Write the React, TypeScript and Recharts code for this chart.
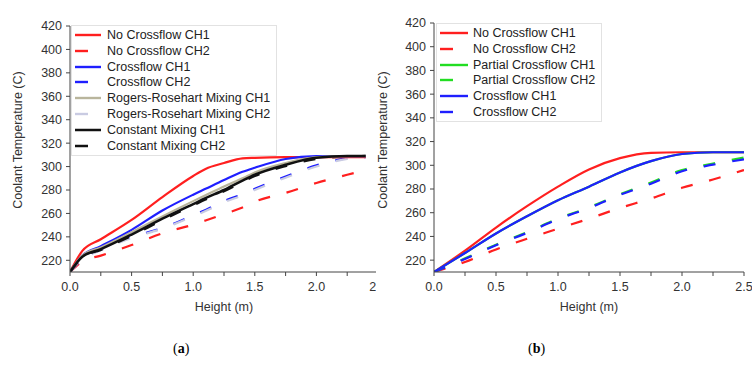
import React from 'react';
import { LineChart, Line, XAxis, YAxis } from 'recharts';

// (a) coolant temperature vs height, mixing models
const heightA = [0, 0.1, 0.25, 0.5, 0.75, 1.0, 1.1, 1.25, 1.4, 1.5, 1.75, 2.0, 2.25, 2.4];
const noCrossCh1A = [210, 228, 238, 254.5, 274, 292, 298, 303, 307, 307.5, 308, 308, 308, 308];
const noCrossCh2A = [210, 219, 224, 233, 243, 250.5, 254, 259.5, 265, 270, 277.5, 286, 293, 297];
const crossCh1A = [210, 224, 232, 246, 262.5, 276, 281, 288.5, 295.5, 299, 306.5, 309, 309, 309];
const crossCh2A = [210, 221, 229, 240, 247.5, 258.5, 263, 270.5, 276.5, 281, 291.5, 301, 307, 308];
const rogersCh1A = [210, 224, 231, 244, 257.5, 270.5, 275.5, 283, 290, 295, 303, 308, 309, 309];
const rogersCh2A = [210, 221, 228.5, 239, 247, 257.5, 262, 269.5, 275.5, 280, 290.5, 300, 306.5, 308];
const constCh1A = [210, 223, 229.5, 242, 255.5, 268, 273, 280, 288, 293, 301.5, 307.5, 309, 309];
const constCh2A = [210, 222.5, 229, 241, 254.5, 267, 272, 279, 287, 292, 300.5, 306.5, 308.5, 309];

// (b) crossflow variants
const heightB = [0, 0.25, 0.5, 0.75, 1.0, 1.25, 1.5, 1.75, 2.0, 2.25, 2.5];
const noCrossCh1B = [210, 228, 247.5, 265.5, 282, 296.5, 306, 310.5, 311, 311, 311];
const noCrossCh2B = [210, 218.5, 229, 238, 246.5, 255, 264, 272, 281, 288, 296];
const partialCh1B = [210, 226, 242.5, 257, 270.5, 282, 294, 303.5, 309.5, 311, 311];
const partialCh2B = [210, 221.5, 233, 243.5, 255, 264.5, 275.5, 285.5, 296, 301.5, 306.5];
const crossCh1B = [210, 226, 242.5, 257, 270.5, 282, 294, 303.5, 309.5, 311, 311];
const crossCh2B = [210, 221, 232.5, 243, 254.5, 264, 275, 284.5, 295, 300.5, 305];

const xTicks = [0, 0.25, 0.5, 0.75, 1, 1.25, 1.5, 1.75, 2, 2.25, 2.5];
const yTicks = [220, 240, 260, 280, 300, 320, 340, 360, 380, 400, 420];

const FONT = '"Liberation Sans", Arial, sans-serif';
const RED = '#ff1f1f';
const BLUE = '#1f1fff';
const GREEN = '#22dd22';
const BLACK = '#111111';
const DASH = '12 17';

type Series = { key: string; name: string; color: string; dashed?: boolean; width?: number };

const seriesA: Series[] = [
  { key: 'nc1', name: 'No Crossflow CH1', color: RED },
  { key: 'nc2', name: 'No Crossflow CH2', color: RED, dashed: true },
  { key: 'c1', name: 'Crossflow CH1', color: BLUE },
  { key: 'c2', name: 'Crossflow CH2', color: BLUE, dashed: true },
  { key: 'r1', name: 'Rogers-Rosehart Mixing CH1', color: '#b9b59c' },
  { key: 'r2', name: 'Rogers-Rosehart Mixing CH2', color: '#c9cbe2', dashed: true },
  { key: 'k1', name: 'Constant Mixing CH1', color: BLACK, width: 2.5 },
  { key: 'k2', name: 'Constant Mixing CH2', color: BLACK, dashed: true, width: 2.5 },
];
// draw order for (a): dashed first, black on top
const drawA = ['nc2', 'c2', 'r2', 'k2', 'nc1', 'c1', 'r1', 'k1'];

const seriesB: Series[] = [
  { key: 'nc1', name: 'No Crossflow CH1', color: RED },
  { key: 'nc2', name: 'No Crossflow CH2', color: RED, dashed: true },
  { key: 'p1', name: 'Partial Crossflow CH1', color: GREEN },
  { key: 'p2', name: 'Partial Crossflow CH2', color: GREEN, dashed: true },
  { key: 'c1', name: 'Crossflow CH1', color: BLUE },
  { key: 'c2', name: 'Crossflow CH2', color: BLUE, dashed: true },
];

const dataA = heightA.map((h, i) => ({
  h,
  nc1: noCrossCh1A[i],
  nc2: noCrossCh2A[i],
  c1: crossCh1A[i],
  c2: crossCh2A[i],
  r1: rogersCh1A[i],
  r2: rogersCh2A[i],
  k1: constCh1A[i],
  k2: constCh2A[i],
}));

const dataB = heightB.map((h, i) => ({
  h,
  nc1: noCrossCh1B[i],
  nc2: noCrossCh2B[i],
  p1: partialCh1B[i],
  p2: partialCh2B[i],
  c1: crossCh1B[i],
  c2: crossCh2B[i],
}));

const tickStyle = { fill: '#333', fontSize: 12.5, fontFamily: FONT };
const xFmt = (v: number) => (Math.abs(v * 2 - Math.round(v * 2)) < 1e-6 ? v.toFixed(1) : '');

// recharts overwrites x/y on a cloned label, so the position comes in as tx
const YTitle = ({ tx }: { tx: number }) => (
  <text x={tx} y={140} transform={`rotate(-90, ${tx}, 140)`} textAnchor="middle" dominantBaseline="central"
    fill="#333" fontSize={12.5} fontFamily={FONT}>
    Coolant Temperature (C)
  </text>
);

const LegendBox = ({ items, left, top, width, sample, gap }: any) => (
  <div style={{
    position: 'absolute', left, top, width, background: '#fff', border: '1px solid #e2e2e2',
    paddingTop: 1, paddingBottom: 1, overflow: 'hidden', fontFamily: FONT, fontSize: 12.5, color: '#222',
  }}>
    {items.map((s: Series) => (
      <div key={s.key} style={{ height: 15.85, display: 'flex', alignItems: 'center', whiteSpace: 'nowrap' }}>
        <svg width={sample + 3} height={4} style={{ marginLeft: 2, flex: 'none' }}>
          <line x1={1} x2={sample + 1} y1={2} y2={2} stroke={s.color} strokeWidth={s.width ?? 2.4}
            strokeDasharray={s.dashed ? '13 30' : undefined} />
        </svg>
        <span style={{ marginLeft: gap }}>{s.name}</span>
      </div>
    ))}
  </div>
);

function Panel({ data, series, order, width, margin, yWidth, titleX }: any) {
  const byKey: Record<string, Series> = Object.fromEntries(series.map((s: Series) => [s.key, s]));
  return (
    <LineChart width={width} height={320} data={data} margin={margin}>
      <XAxis dataKey="h" type="number" domain={[0, 2.5]} ticks={xTicks} tickFormatter={xFmt}
        interval={0} height={48} tick={tickStyle} tickSize={4} tickMargin={6}
        stroke="#444" allowDataOverflow
        label={{ value: 'Height (m)', position: 'insideBottom', offset: 9, fill: '#333', fontSize: 12.5, fontFamily: FONT }} />
      <YAxis type="number" domain={[210, 420]} ticks={yTicks} interval={0} width={yWidth}
        tick={tickStyle} tickSize={4} tickMargin={4} stroke="#444" allowDataOverflow
        label={<YTitle tx={titleX} />} />
      {order.map((k: string) => {
        const s = byKey[k];
        return (
          <Line key={k} type="monotone" dataKey={k} name={s.name} stroke={s.color}
            strokeWidth={s.width ?? 2.2} strokeDasharray={s.dashed ? DASH : undefined}
            dot={false} activeDot={false} isAnimationActive={false} />
        );
      })}
    </LineChart>
  );
}

export default function App() {
  return (
    <div style={{ position: 'absolute', left: 0, top: 0, width: 752, height: 367, background: '#fff', overflow: 'hidden' }}>
      <div style={{ position: 'absolute', left: 0, top: 0, width: 376, height: 320, overflow: 'hidden' }}>
        <Panel data={dataA} series={seriesA} order={drawA} width={390} yWidth={70} titleX={18}
          margin={{ top: 26, right: 12, left: 0, bottom: 0 }} />
        <LegendBox items={seriesA} left={71} top={25} width={204} sample={26} gap={4} />
      </div>
      <div style={{ position: 'absolute', left: 376, top: 0, width: 376, height: 320, overflow: 'hidden' }}>
        <Panel data={dataB} series={seriesB} order={['nc2', 'p2', 'c2', 'nc1', 'p1', 'c1']} width={376} yWidth={58}
          titleX={7} margin={{ top: 23, right: 8, left: 0, bottom: 0 }} />
        <LegendBox items={seriesB} left={60} top={23} width={164} sample={28} gap={3} />
      </div>
      <div style={{ position: 'absolute', left: 173, top: 341, fontFamily: '"Liberation Serif", serif', fontSize: 14 }}>
        (<b>a</b>)
      </div>
      <div style={{ position: 'absolute', left: 528, top: 341, fontFamily: '"Liberation Serif", serif', fontSize: 14 }}>
        (<b>b</b>)
      </div>
    </div>
  );
}
